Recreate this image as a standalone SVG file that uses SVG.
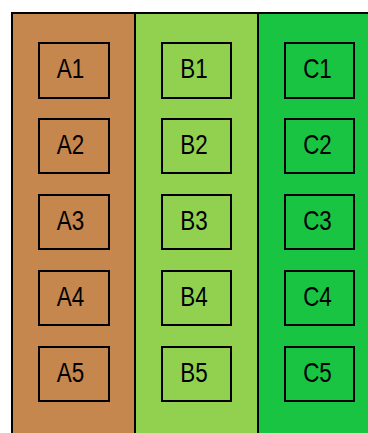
<svg xmlns="http://www.w3.org/2000/svg" width="368" height="433" viewBox="0 0 368 433">
<style>
.node rect{stroke:#000;stroke-width:2;}
.a rect{fill:#C5874D}.b rect{fill:#92D050}.c rect{fill:#19C443}
text{font-family:"Liberation Sans",Arial,sans-serif;font-size:27px;fill:#000;text-anchor:middle}
</style>
<rect x="0" y="0" width="368" height="433" fill="#fff"/>
<g id="lanes">
<rect x="12" y="13" width="123" height="425" fill="#C5874D" stroke="#000" stroke-width="2"/>
<rect x="135" y="13" width="123" height="425" fill="#92D050" stroke="#000" stroke-width="2"/>
<rect x="258" y="13" width="120" height="425" fill="#19C443" stroke="#000" stroke-width="2"/>
</g>
<g id="A1" class="node a"><rect x="39" y="43" width="70" height="55"/><text transform="translate(70.5,78) scale(0.83,1)">A1</text></g>
<g id="A2" class="node a"><rect x="39" y="119" width="70" height="54"/><text transform="translate(70.5,154) scale(0.83,1)">A2</text></g>
<g id="A3" class="node a"><rect x="39" y="195" width="70" height="54"/><text transform="translate(70.5,230) scale(0.83,1)">A3</text></g>
<g id="A4" class="node a"><rect x="39" y="271" width="70" height="54"/><text transform="translate(70.5,306) scale(0.83,1)">A4</text></g>
<g id="A5" class="node a"><rect x="39" y="347" width="70" height="54"/><text transform="translate(70.5,382) scale(0.83,1)">A5</text></g>
<g id="B1" class="node b"><rect x="162" y="43" width="69" height="55"/><text transform="translate(194,78) scale(0.83,1)">B1</text></g>
<g id="B2" class="node b"><rect x="162" y="119" width="69" height="54"/><text transform="translate(194,154) scale(0.83,1)">B2</text></g>
<g id="B3" class="node b"><rect x="162" y="195" width="69" height="54"/><text transform="translate(194,230) scale(0.83,1)">B3</text></g>
<g id="B4" class="node b"><rect x="162" y="271" width="69" height="54"/><text transform="translate(194,306) scale(0.83,1)">B4</text></g>
<g id="B5" class="node b"><rect x="162" y="347" width="69" height="54"/><text transform="translate(194,382) scale(0.83,1)">B5</text></g>
<g id="C1" class="node c"><rect x="285" y="43" width="69" height="55"/><text transform="translate(317.5,78) scale(0.83,1)">C1</text></g>
<g id="C2" class="node c"><rect x="285" y="119" width="69" height="54"/><text transform="translate(317.5,154) scale(0.83,1)">C2</text></g>
<g id="C3" class="node c"><rect x="285" y="195" width="69" height="54"/><text transform="translate(317.5,230) scale(0.83,1)">C3</text></g>
<g id="C4" class="node c"><rect x="285" y="271" width="69" height="54"/><text transform="translate(317.5,306) scale(0.83,1)">C4</text></g>
<g id="C5" class="node c"><rect x="285" y="347" width="69" height="54"/><text transform="translate(317.5,382) scale(0.83,1)">C5</text></g>
<g id="connectors"></g>
</svg>
